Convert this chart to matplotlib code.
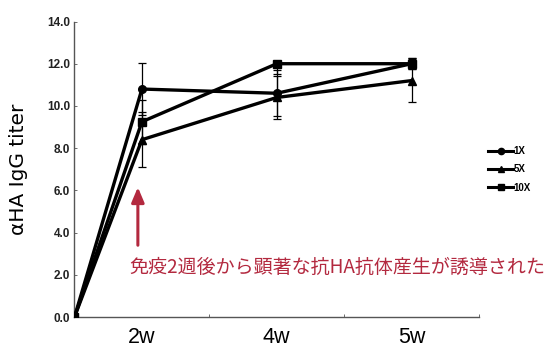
import numpy as np
import matplotlib
matplotlib.use("Agg")
import matplotlib.pyplot as plt
from matplotlib.lines import Line2D

# Antibody titer time course
weeks = ["2w", "4w", "5w"]
series_labels = ["1X", "5X", "10X"]
titer_1x = [0.0, 10.8, 10.6, 12.0]
titer_5x = [0.0, 8.4, 10.4, 11.2]
titer_10x = [0.0, 9.25, 12.0, 12.0]
err_1x_low = [0.0, 1.25, 1.1, 0.25]
err_1x_high = [0.0, 1.25, 1.1, 0.25]
err_5x_low = [0.0, 1.3, 1.0, 1.0]
err_5x_high = [0.0, 1.3, 1.0, 1.0]
err_10x_low = [0.0, 1.05, 0.5, 0.25]
err_10x_high = [0.0, 1.05, 0.0, 0.25]
yticks = [0.0, 2.0, 4.0, 6.0, 8.0, 10.0, 12.0, 14.0]
note = "免疫2週後から顕著な抗HA抗体産生が誘導された"

markers = ["o", "^", "s"]
red = "#b3293f"
axis_gray = "#555555"

fig = plt.figure(figsize=(5.48, 3.47), dpi=100)
ax = fig.add_axes([74.5 / 548, 1 - 317 / 347, (479 - 74.5) / 548, (317 - 21.5) / 347])

# the curves start at the origin on the left edge of the first category
xpos = np.concatenate([[-0.5], np.arange(len(weeks))])

series = [
    (titer_1x, err_1x_low, err_1x_high),
    (titer_5x, err_5x_low, err_5x_high),
    (titer_10x, err_10x_low, err_10x_high),
]
for (vals, lo, hi), mk in zip(series, markers):
    ax.plot(xpos, vals, color="black", lw=2.4, marker=mk, ms=5.5,
            solid_capstyle="butt", zorder=3)
    ax.errorbar(xpos[1:], vals[1:], yerr=[lo[1:], hi[1:]], fmt="none", ecolor="black",
                elinewidth=0.9, capsize=3.2, capthick=0.9, zorder=2)

ax.set_xlim(-0.5, len(weeks) - 0.5)
ax.set_ylim(yticks[0], yticks[-1])
ax.set_yticks(yticks)
ax.set_yticklabels([f"{v:.1f}" for v in yticks], fontfamily="Liberation Sans",
                   fontweight="bold", fontsize=8.5, color="#222222")
ax.set_xticks(np.arange(len(weeks)))
ax.set_xticklabels(weeks, fontfamily="Liberation Sans", fontsize=15.5)
ax.set_xticks(np.arange(len(weeks)) + 0.5, minor=True)
ax.tick_params(axis="x", which="major", length=0, pad=7)
ax.tick_params(axis="x", which="minor", direction="in", length=2.5, width=0.6, color=axis_gray)
ax.tick_params(axis="y", direction="in", length=2, width=0.6, color=axis_gray, pad=3)

for side in ["top", "right"]:
    ax.spines[side].set_visible(False)
for side in ["left", "bottom"]:
    ax.spines[side].set_color(axis_gray)
    ax.spines[side].set_linewidth(1.0)

ax.set_ylabel("αHA IgG titer", fontfamily="DejaVu Sans", fontsize=14.5, labelpad=13.5)

# legend
handles = [Line2D([], [], color="black", lw=2.2, marker=m, ms=4.5) for m in markers]
fig.legend(handles, series_labels, loc="upper left",
           bbox_to_anchor=(488 / 548, 1 - 146 / 347), frameon=False,
           prop={"family": "Liberation Sans", "weight": "bold", "size": 7},
           handlelength=2.6, handletextpad=0.05, labelspacing=0.85,
           borderpad=0, borderaxespad=0)

# annotation arrow and caption
ax.annotate("", xy=(-0.03, 6.15), xytext=(-0.03, 3.4),
            arrowprops=dict(arrowstyle="-|>,head_length=0.9,head_width=0.38",
                            color=red, lw=2.2, shrinkA=0, shrinkB=0))
ax.text(-0.09, 2.37, note, color=red, fontsize=13.7,
        fontfamily=["Noto Sans CJK JP", "DejaVu Sans"], va="center", ha="left",
        clip_on=False)

fig.savefig("out.png", dpi=100)
